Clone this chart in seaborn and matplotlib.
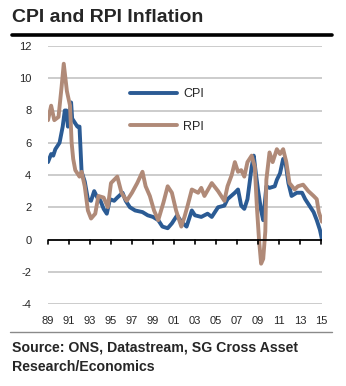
import numpy as np
import pandas as pd
import matplotlib
matplotlib.use("Agg")
import matplotlib.pyplot as plt
import seaborn as sns

cpi_years = [1989.0, 1989.3, 1989.5, 1989.7, 1990.1, 1990.4, 1990.6, 1990.75, 1990.9, 1991.2,
             1991.3, 1991.6, 1991.8, 1992.0, 1992.2, 1992.5, 1992.8, 1993.1, 1993.4, 1993.7,
             1994.0, 1994.3, 1994.6, 1994.9, 1995.3, 1995.6, 1996.1, 1996.4, 1996.8, 1997.3,
             1998.0, 1998.5, 1999.0, 1999.5, 1999.9, 2000.4, 2000.8, 2001.3, 2001.7, 2002.2,
             2002.7, 2003.0, 2003.6, 2004.2, 2004.6, 2005.2, 2005.8, 2006.1, 2006.8, 2007.1,
             2007.4, 2007.7, 2008.0, 2008.4, 2008.6, 2008.8, 2009.0, 2009.3, 2009.5, 2009.8,
             2010.1, 2010.6, 2010.8, 2011.1, 2011.4, 2011.6, 2011.9, 2012.2, 2012.7, 2013.2,
             2013.5, 2014.0, 2014.3, 2014.6, 2014.9, 2015.1]
cpi_values = [4.8, 5.3, 5.2, 5.6, 6.0, 7.0, 8.0, 8.0, 7.0, 8.5,
              7.5, 7.2, 7.0, 7.0, 4.2, 3.6, 2.5, 2.4, 3.0, 2.6,
              2.4, 1.9, 1.6, 2.5, 2.4, 2.6, 2.9, 2.4, 2.0, 1.8,
              1.7, 1.5, 1.4, 1.2, 0.8, 0.7, 1.0, 1.5, 1.1, 0.8,
              1.8, 1.5, 1.4, 1.6, 1.4, 2.0, 2.1, 2.5, 2.9, 3.1,
              2.1, 1.9, 2.5, 4.5, 5.2, 4.1, 3.1, 1.8, 1.2, 3.3,
              3.2, 3.3, 3.7, 4.1, 5.0, 4.9, 3.5, 2.7, 2.9, 2.9,
              2.5, 2.0, 1.7, 1.2, 0.6, 0.0]

rpi_years = [1989.0, 1989.3, 1989.6, 1990.0, 1990.3, 1990.5, 1990.8, 1991.1, 1991.25, 1991.4,
             1991.6, 1992.0, 1992.2, 1992.5, 1992.8, 1993.1, 1993.5, 1993.8, 1994.3, 1994.7,
             1995.0, 1995.6, 1996.0, 1996.5, 1997.0, 1997.5, 1998.0, 1998.3, 1998.7, 1999.1,
             1999.5, 2000.0, 2000.4, 2000.8, 2001.2, 2001.7, 2002.0, 2002.3, 2002.7, 2003.3,
             2003.6, 2003.9, 2004.6, 2005.2, 2005.5, 2005.8, 2006.1, 2006.5, 2006.8, 2007.1,
             2007.4, 2007.7, 2008.0, 2008.4, 2008.7, 2008.9, 2009.1, 2009.3, 2009.5, 2009.7,
             2009.8, 2010.1, 2010.4, 2010.8, 2011.1, 2011.4, 2011.7, 2012.0, 2012.5, 2012.8,
             2013.3, 2013.8, 2014.3, 2014.6, 2014.8, 2015.1]
rpi_values = [7.4, 8.3, 7.4, 7.6, 9.5, 10.9, 9.2, 8.3, 6.0, 5.0,
              4.3, 3.9, 4.2, 3.3, 1.8, 1.3, 1.6, 2.7, 2.6, 2.0,
              3.5, 3.9, 2.9, 2.4, 2.9, 3.5, 4.2, 3.3, 2.7, 1.8,
              1.2, 2.3, 3.3, 2.9, 1.8, 0.8, 1.4, 2.1, 3.1, 2.9,
              3.2, 2.7, 3.5, 3.0, 2.7, 2.4, 3.3, 4.0, 4.8, 4.2,
              4.3, 3.9, 4.8, 5.2, 4.5, 2.0, 0.0, -1.5, -1.2, 0.5,
              3.7, 5.4, 4.8, 5.6, 5.3, 5.6, 4.8, 3.5, 3.1, 3.3,
              3.4, 3.0, 2.7, 2.5, 1.7, 1.1]

series_names = ["CPI", "RPI"]
series_colors = ["#2b5b94", "#b08a78"]
yticks = [-4, -2, 0, 2, 4, 6, 8, 10, 12]
xtick_years = list(range(1989, 2016, 2))
xtick_labels = [f"{y % 100:02d}" for y in xtick_years]

df = pd.concat([
    pd.DataFrame({"year": cpi_years, "value": cpi_values, "series": "CPI"}),
    pd.DataFrame({"year": rpi_years, "value": rpi_values, "series": "RPI"}),
], ignore_index=True)

sns.set_style("white")
plt.rcParams["font.family"] = ["Liberation Sans", "DejaVu Sans"]

fig = plt.figure(figsize=(3.46, 3.86), dpi=100)
ax = fig.add_axes([48 / 346, 1 - 304 / 386, 274 / 346, 258 / 386])

for yv in yticks:
    if yv != 0:
        ax.axhline(yv, color="#c8c8c8", lw=1.3, zorder=0)

sns.lineplot(data=df, x="year", y="value", hue="series", hue_order=series_names,
             palette=series_colors, ax=ax, lw=2.8, estimator=None, sort=False,
             legend=False)

ax.axhline(0, color="black", lw=1.3, zorder=3)
for xt in xtick_years:
    ax.plot([xt, xt], [0, -0.28], color="black", lw=1.2, zorder=3, clip_on=False)

ax.set_xlim(1989, 2015.1)
ax.set_ylim(-4, 12)
ax.set_yticks(yticks)
ax.set_yticklabels([str(v) for v in yticks], fontsize=8)
ax.set_xticks(xtick_years)
ax.set_xticklabels(xtick_labels, fontsize=8)
ax.tick_params(axis="both", length=0)
ax.tick_params(axis="y", pad=12)
ax.tick_params(axis="x", pad=9)
ax.set_xlabel("")
ax.set_ylabel("")
for s in ax.spines.values():
    s.set_visible(False)

handles = [plt.Line2D([], [], color=c, lw=2.8) for c in series_colors]
leg = ax.legend(handles, series_names, loc="upper left",
                bbox_to_anchor=(0.282, 0.855), frameon=False, fontsize=9,
                handlelength=3.7, handletextpad=0.55, labelspacing=1.62,
                borderaxespad=0)

fig.text(12 / 346, 1 - 18 / 386, "CPI and RPI Inflation", fontsize=14,
         fontweight="bold", va="center", ha="left")
fig.add_artist(plt.Line2D([12 / 346, 332 / 346], [1 - 35 / 386, 1 - 35 / 386],
                          color="black", lw=2.6))
fig.add_artist(plt.Line2D([10 / 346, 332 / 346], [1 - 332 / 386, 1 - 332 / 386],
                          color="#8a8a8a", lw=1.0))
fig.text(12 / 346, 1 - 347 / 386, "Source: ONS, Datastream, SG Cross Asset",
         fontsize=10.2, fontweight="bold", va="center", ha="left")
fig.text(12 / 346, 1 - 367 / 386, "Research/Economics",
         fontsize=10.2, fontweight="bold", va="center", ha="left")

fig.savefig("out.png", dpi=100)
